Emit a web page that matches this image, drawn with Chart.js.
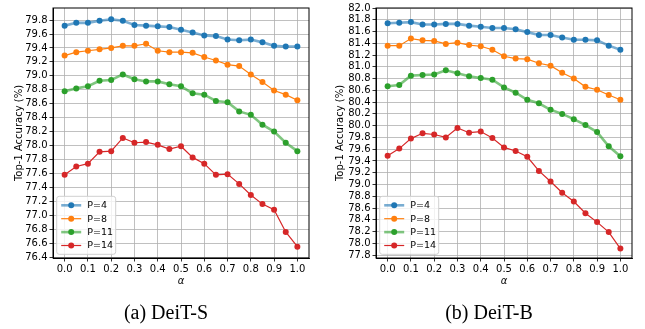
<!DOCTYPE html>
<html>
<head>
<meta charset="utf-8">
<script src="https://cdn.jsdelivr.net/npm/chart.js@4"></script>
<style>
  html, body { margin: 0; padding: 0; background: #fff; }
  #wrap { position: relative; width: 645px; height: 329px; overflow: hidden; background: #fff; }
  canvas { position: absolute; top: 0; }
  #left { left: 0; }
  #right { left: 320px; }
  .caption { position: absolute; top: 299px; width: 200px; text-align: center; font-family: "Liberation Serif", serif; font-size: 20px; line-height: 26px; color: #000; }
</style>
</head>
<body>
<div id="wrap">
  <canvas id="left" width="320" height="300"></canvas>
  <canvas id="right" width="325" height="300"></canvas>
  <div class="caption" style="left: 66px">(a) DeiT-S</div>
  <div class="caption" style="left: 389px">(b) DeiT-B</div>
</div>
<script>
const alphas = [0.0, 0.05, 0.1, 0.15, 0.2, 0.25, 0.3, 0.35, 0.4, 0.45, 0.5,
  0.55, 0.6, 0.65, 0.7, 0.75, 0.8, 0.85, 0.9, 0.95, 1.0];
const xTicks = [0.0, 0.1, 0.2, 0.3, 0.4, 0.5, 0.6, 0.7, 0.8, 0.9, 1.0];

const labels = ["P=4", "P=8", "P=11", "P=14"];

// (a) DeiT-S
const deitS_P4 = [79.72, 79.76, 79.76, 79.79, 79.81, 79.79, 79.73, 79.72, 79.71, 79.70, 79.66,
  79.62, 79.58, 79.57, 79.52, 79.51, 79.52, 79.48, 79.43, 79.42, 79.42];
const deitS_P8 = [79.29, 79.34, 79.36, 79.38, 79.40, 79.43, 79.43, 79.46, 79.36, 79.34, 79.34,
  79.33, 79.27, 79.22, 79.16, 79.14, 79.02, 78.91, 78.79, 78.73, 78.65];
const deitS_P11 = [78.78, 78.82, 78.85, 78.93, 78.94, 79.02, 78.95, 78.92, 78.92, 78.88, 78.85,
  78.75, 78.73, 78.64, 78.62, 78.49, 78.44, 78.30, 78.20, 78.04, 77.92];
const deitS_P14 = [77.58, 77.70, 77.74, 77.91, 77.92, 78.11, 78.04, 78.05, 78.01, 77.95, 77.99,
  77.83, 77.74, 77.58, 77.59, 77.45, 77.29, 77.16, 77.08, 76.76, 76.55];
const yTicksS = [76.4, 76.6, 76.8, 77.0, 77.2, 77.4, 77.6, 77.8, 78.0, 78.2,
  78.4, 78.6, 78.8, 79.0, 79.2, 79.4, 79.6, 79.8];

// (b) DeiT-B
const deitB_P4 = [81.74, 81.75, 81.76, 81.72, 81.72, 81.73, 81.73, 81.70, 81.68, 81.66, 81.66,
  81.64, 81.59, 81.54, 81.54, 81.50, 81.46, 81.46, 81.45, 81.36, 81.29];
const deitB_P8 = [81.36, 81.36, 81.48, 81.45, 81.44, 81.39, 81.41, 81.37, 81.35, 81.29, 81.18,
  81.14, 81.13, 81.06, 81.02, 80.90, 80.80, 80.66, 80.61, 80.52, 80.44];
const deitB_P11 = [80.67, 80.69, 80.85, 80.86, 80.87, 80.94, 80.89, 80.84, 80.81, 80.78, 80.65,
  80.56, 80.44, 80.38, 80.27, 80.20, 80.11, 80.01, 79.89, 79.65, 79.48];
const deitB_P14 = [79.49, 79.61, 79.78, 79.87, 79.85, 79.80, 79.96, 79.88, 79.90, 79.79, 79.63,
  79.57, 79.47, 79.23, 79.05, 78.86, 78.71, 78.51, 78.36, 78.19, 77.91];
const yTicksB = [77.8, 78.0, 78.2, 78.4, 78.6, 78.8, 79.0, 79.2, 79.4, 79.6,
  79.8, 80.0, 80.2, 80.4, 80.6, 80.8, 81.0, 81.2, 81.4, 81.6, 81.8, 82.0];

const FONT = "DejaVu Sans";
Chart.defaults.font.family = FONT;

// P=4 and P=11 are drawn with a soft, wider line
const lineStyles = [
  { line: "rgba(31,119,180,0.6)", dot: "#1f77b4", width: 2.6 },
  { line: "#ff7f0e", dot: "#ff7f0e", width: 1.2 },
  { line: "rgba(44,160,44,0.6)", dot: "#2ca02c", width: 2.6 },
  { line: "#d62728", dot: "#d62728", width: 1.2 },
];

// axes box + matplotlib-like legend in the lower left corner
const frameAndLegend = {
  id: "frameAndLegend",
  afterDraw(chart) {
    const { ctx, chartArea: a } = chart;
    ctx.save();
    ctx.strokeStyle = "#000";
    ctx.lineWidth = 1;
    ctx.strokeRect(a.left, a.top, a.right - a.left, a.bottom - a.top);

    const w = 59, h = 58;
    const x0 = a.left + 3.7, y0 = a.bottom - 3.7 - h;
    ctx.beginPath();
    ctx.roundRect(x0, y0, w, h, 2.5);
    ctx.fillStyle = "rgba(255,255,255,0.8)";
    ctx.fill();
    ctx.strokeStyle = "#d0d0d0";
    ctx.lineWidth = 1;
    ctx.stroke();

    chart.data.datasets.forEach((ds, i) => {
      const y = y0 + 9 + i * 13.4;
      ctx.strokeStyle = ds.borderColor;
      ctx.lineWidth = ds.borderWidth;
      ctx.beginPath();
      ctx.moveTo(x0 + 4.5, y);
      ctx.lineTo(x0 + 24.5, y);
      ctx.stroke();
      ctx.fillStyle = ds.pointBackgroundColor;
      ctx.beginPath();
      ctx.arc(x0 + 14.5, y, 3, 0, Math.PI * 2);
      ctx.fill();
      ctx.fillStyle = "#000";
      ctx.font = `9.5px "${FONT}"`;
      ctx.textBaseline = "middle";
      ctx.textAlign = "left";
      ctx.fillText(ds.label, x0 + 30.5, y + 0.5);
    });
    ctx.restore();
  },
};

function makeChart(id, seriesList, yMin, yMax, yTicks, yWidth, rightPad, yTitlePad) {
  const datasets = seriesList.map((vals, i) => ({
    label: labels[i],
    data: alphas.map((a, j) => ({ x: a, y: vals[j] })),
    borderColor: lineStyles[i].line,
    borderWidth: lineStyles[i].width,
    pointBackgroundColor: lineStyles[i].dot,
    pointBorderColor: lineStyles[i].dot,
    pointBorderWidth: 0,
    pointRadius: 3,
    tension: 0,
  }));

  return new Chart(document.getElementById(id), {
    type: "line",
    data: { datasets },
    options: {
      responsive: false,
      animation: false,
      devicePixelRatio: 1,
      layout: { padding: { top: 4, right: rightPad, left: 0, bottom: 0 } },
      plugins: { legend: { display: false }, tooltip: { enabled: false } },
      scales: {
        x: {
          type: "linear",
          min: -0.05,
          max: 1.05,
          afterBuildTicks: (s) => { s.ticks = xTicks.map((v) => ({ value: v })); },
          afterFit: (s) => { s.height = 42; },
          ticks: {
            font: { size: 10 },
            color: "#000",
            padding: 1.5,
            maxRotation: 0,
            autoSkip: false,
            callback: (v) => Number(v).toFixed(1),
          },
          grid: { color: "#b0b0b0", lineWidth: 0.8, tickColor: "#000", tickLength: 3.5 },
          border: { color: "#000", width: 1 },
          title: {
            display: true,
            text: "α",
            color: "#000",
            font: { size: 10, style: "italic" },
            padding: { top: 0, bottom: 13 },
          },
        },
        y: {
          type: "linear",
          min: yMin,
          max: yMax,
          afterBuildTicks: (s) => { s.ticks = yTicks.map((v) => ({ value: v })); },
          afterFit: (s) => { s.width = yWidth; },
          ticks: {
            font: { size: 10 },
            color: "#000",
            padding: 2,
            autoSkip: false,
            callback: (v) => Number(v).toFixed(1),
          },
          grid: { color: "#b0b0b0", lineWidth: 0.8, tickColor: "#000", tickLength: 3.5 },
          border: { color: "#000", width: 1 },
          title: {
            display: true,
            text: "Top-1 Accuracy (%)",
            color: "#000",
            font: { size: 10 },
            padding: { top: yTitlePad, bottom: 0 },
          },
        },
      },
    },
    plugins: [frameAndLegend],
  });
}

makeChart("left", [deitS_P4, deitS_P8, deitS_P11, deitS_P14], 76.387, 79.973, yTicksS, 53, 11, 13.5);
makeChart("right", [deitB_P4, deitB_P8, deitB_P11, deitB_P14], 77.75, 82.0, yTicksB, 56, 13, 14);
</script>
</body>
</html>
